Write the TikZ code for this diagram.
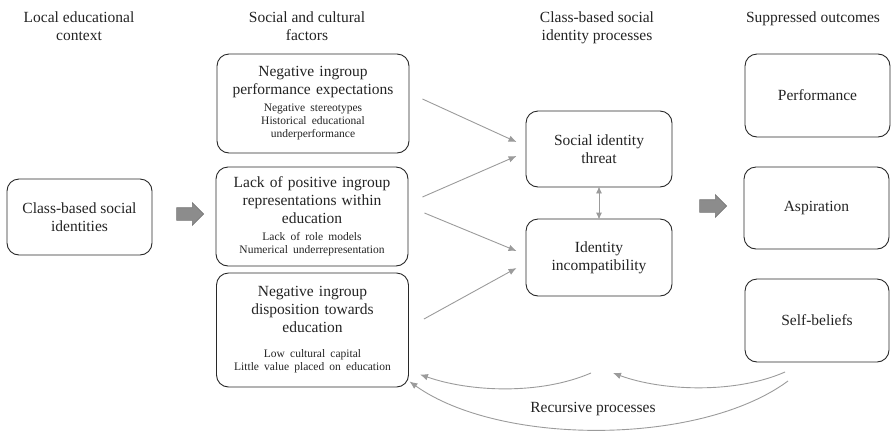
\documentclass[tikz,border=0pt]{standalone}
\usepackage{fontspec}
\setmainfont{Liberation Serif}
\usetikzlibrary{arrows.meta,shapes.arrows}

\newcommand{\mainsize}{\fontsize{15.5}{18}\selectfont}
\newcommand{\notesize}{\fontsize{11.5}{13}\selectfont}
\newcommand{\factortext}[3][4pt]{{\mainsize #2\par}\vspace{#1}{\notesize #3\par}}

\begin{document}
\begin{tikzpicture}[x=1pt,y=-1pt,
    roundbox/.style={draw=boxline, line width=0.9pt, rounded corners=12pt,
        align=center, font=\mainsize, text=inkcolor, inner sep=2pt},
    factorbox/.style={roundbox, text width=186pt, minimum width=192pt},
    flow/.style={draw=linegray, line width=0.9pt, -{Latex[length=8pt,width=6.5pt]}},
    bigarrow/.style={single arrow, draw=arrowedge, fill=arrowgray,
        minimum height=27pt, minimum width=22pt, single arrow head extend=5pt,
        inner sep=6pt, line width=0.6pt},
    heading/.style={align=center, font=\mainsize, text=inkcolor, inner sep=0pt, anchor=north}]

    % Color definitions
    \definecolor{inkcolor}{RGB}{35,35,35}
    \definecolor{boxline}{RGB}{40,40,40}
    \definecolor{linegray}{RGB}{155,155,155}
    \definecolor{arrowgray}{RGB}{140,140,140}
    \definecolor{arrowedge}{RGB}{120,120,120}

    % Canvas
    \useasboundingbox (0,0) rectangle (891,432);

    % Column headings
    \foreach \x/\y/\name/\label in {
        79/11.5/hlocal/{Local educational\\context},
        307/11.5/hsocial/{Social and cultural\\factors},
        597/11.5/hidentity/{Class-based social\\identity processes},
        815/11.5/houtcome/{Suppressed outcomes}
    } {
        \node[heading] (\name) at (\x,\y) {\label};
    }

    % Local educational context
    \node[roundbox, minimum width=145pt, minimum height=76pt] (classid) at (79.5,217)
        {Class-based social\\identities};

    % Social and cultural factors
    \node[factorbox, minimum height=99pt] (expect) at (313,103.5)
        {\factortext{Negative ingroup\\performance expectations}
            {Negative stereotypes\\Historical educational\\underperformance}};
    \node[factorbox, minimum height=99pt] (repres) at (312,216.5)
        {\factortext{Lack of positive ingroup\\representations within\\education}
            {Lack of role models\\Numerical underrepresentation}};
    \node[factorbox, minimum height=114pt] (dispos) at (312.5,330)
        {\factortext[12pt]{Negative ingroup\\disposition towards\\education}
            {Low cultural capital\\Little value placed on education}};

    % Class-based social identity processes
    \node[roundbox, minimum width=146pt, minimum height=76pt] (threat) at (599,149)
        {Social identity\\threat};
    \node[roundbox, minimum width=146pt, minimum height=77pt] (incomp) at (599,257.5)
        {Identity\\incompatibility};

    % Suppressed outcomes
    \node[roundbox, minimum width=145pt, minimum height=83pt] (perform) at (817.5,95.5) {Performance};
    \node[roundbox, minimum width=145pt, minimum height=82pt] (aspire) at (816.5,208) {Aspiration};
    \node[roundbox, minimum width=144pt, minimum height=83pt] (belief) at (817,320.5) {Self-beliefs};

    % Block arrows
    \node[bigarrow] (step1) at (187,214) {};
    \node[bigarrow] (step2) at (710,206) {};

    % Factors to identity processes
    \draw[flow] ([shift={(13,-4.5)}]expect.east) -- ([shift={(-9,-7)}]threat.west);
    \draw[flow] ([shift={(14,-19.5)}]repres.east) -- ([shift={(-9,7)}]threat.west);
    \draw[flow] ([shift={(16,-3.5)}]repres.east) -- ([shift={(-9,-6.5)}]incomp.west);
    \draw[flow] ([shift={(15,-11)}]dispos.east) -- ([shift={(-9,10.5)}]incomp.west);

    % Threat <-> incompatibility
    \draw[flow, {Latex[length=7pt,width=6pt]}-{Latex[length=7pt,width=6pt]}]
        ([yshift=1pt]threat.south) -- ([yshift=-1pt]incomp.north);

    % Recursive processes
    \coordinate (rec1) at (591,373);
    \coordinate (rec2) at (785,372);
    \coordinate (rec2end) at (613,373);
    \coordinate (rec3) at (788,381);
    \draw[flow] (rec1) .. controls (540,395) and (470,392) .. ([shift={(11,-13)}]dispos.south east);
    \draw[flow] (rec2) .. controls (735,394) and (662,391) .. (rec2end);
    \draw[flow] (rec3) .. controls (700,446) and (500,446) .. ([shift={(0.5,-6)}]dispos.south east);
    \node[font=\mainsize, text=inkcolor] (reclabel) at (593,409) {Recursive processes};

\end{tikzpicture}
\end{document}
